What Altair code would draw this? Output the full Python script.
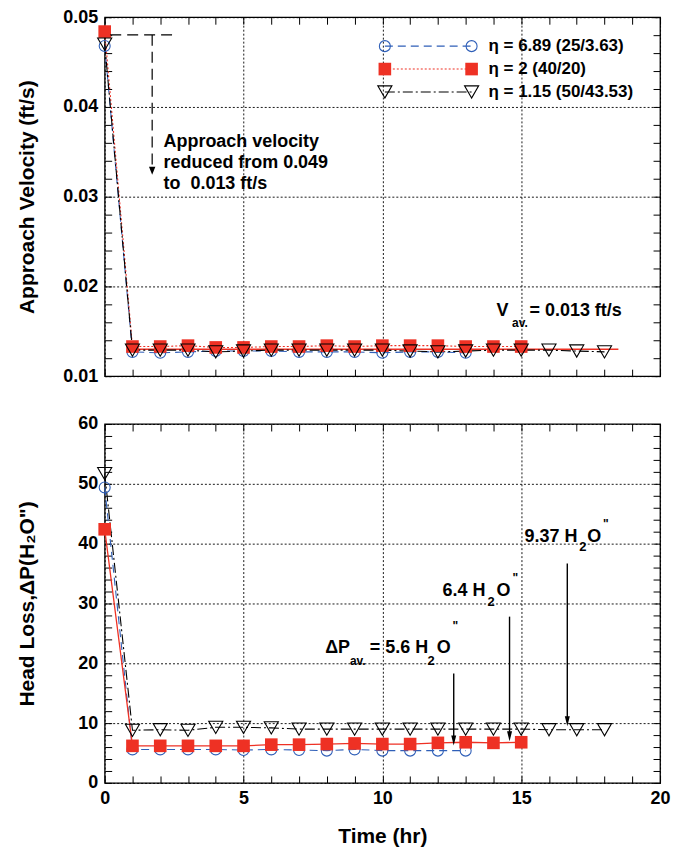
import altair as alt
import pandas as pd

# ---------------- data ----------------
hours_blue = list(range(0, 14))
hours_red = list(range(0, 16))
hours_tri = list(range(0, 19))

vel_blue = [0.0468, 0.0127, 0.0126, 0.0127, 0.0128, 0.0128, 0.0128, 0.0127,
            0.0127, 0.0127, 0.0126, 0.0127, 0.0127, 0.0126]
vel_red = [0.0484, 0.0133, 0.0133, 0.0134, 0.0132, 0.0132, 0.0133, 0.0133,
           0.0134, 0.0133, 0.0134, 0.0134, 0.0134, 0.0133, 0.0133, 0.0133]
vel_tri = [0.0470, 0.0129, 0.0129, 0.0129, 0.0127, 0.0128, 0.0129, 0.0129,
           0.0129, 0.0129, 0.0129, 0.0128, 0.0127, 0.0128, 0.0129, 0.0129,
           0.0129, 0.0128, 0.0127]

dp_blue = [49.4, 5.6, 5.6, 5.6, 5.6, 5.5, 5.6, 5.5, 5.4, 5.6, 5.4, 5.4, 5.4, 5.4]
dp_red = [42.4, 6.2, 6.2, 6.2, 6.2, 6.2, 6.4, 6.4, 6.5, 6.6, 6.5, 6.5, 6.7,
          6.8, 6.7, 6.8]
dp_tri = [51.7, 8.8, 8.9, 8.8, 9.3, 9.3, 9.2, 9.0, 9.0, 9.0, 9.0, 9.0, 9.0,
          9.0, 9.0, 9.0, 8.9, 8.9, 8.9]

series_labels = ["η = 6.89 (25/3.63)", "η = 2 (40/20)", "η = 1.15 (50/43.53)"]
vel_average = 0.013

x_label_values = [0, 5, 10, 15, 20]
x_tick_values = list(range(0, 21))
vel_label_values = [0.01, 0.02, 0.03, 0.04, 0.05]
vel_tick_values = [round(0.010 + 0.002 * i, 3) for i in range(21)]
dp_label_values = [0, 10, 20, 30, 40, 50, 60]
dp_tick_values = list(range(0, 61, 2))

# ---------------- styling ----------------
FONT = "Liberation Sans"
BLUE = "#2f5fb8"
RED = "#ee3124"
BLACK = "#000000"
W, H = 557, 360

XS = alt.Scale(domain=[0, 20], nice=False, zero=False)
YS_VEL = alt.Scale(domain=[0.01, 0.05], nice=False, zero=False)
YS_DP = alt.Scale(domain=[0, 60], nice=False, zero=False)

STYLES = [
    dict(color=BLUE, dash=[8, 5], shape="circle", filled=False, size=121),
    dict(color=RED, dash=[2, 2], shape="square", filled=True, size=160),
    dict(color=BLACK, dash=[10, 3, 2, 3], shape="triangle-down", filled=False, size=200),
]


def series_frame(hours, vals):
    return pd.DataFrame({"t": hours, "v": vals})


def xenc(axis=None, field="t:Q"):
    return alt.X(field, scale=XS, axis=axis)


def yenc(ys, axis=None, field="v:Q"):
    return alt.Y(field, scale=ys, axis=axis)


def tick_axis(orient, values):
    return alt.Axis(orient=orient, values=values, labels=False, grid=False,
                    domain=False, ticks=True, tickSize=7, offset=-7,
                    tickColor=BLACK, tickWidth=1, title=None)


def point_layer(df, st, ys):
    kw = dict(shape=st["shape"], size=st["size"], opacity=1)
    if st["filled"]:
        kw.update(filled=True, fill=st["color"], strokeWidth=0)
    else:
        kw.update(filled=False, stroke=st["color"], strokeWidth=1.1)
    return alt.Chart(df).mark_point(**kw).encode(x=xenc(), y=yenc(ys))


def line_layer(df, color, dash, ys, width=1.1):
    kw = dict(color=color, strokeWidth=width)
    if dash:
        kw["strokeDash"] = dash
    return alt.Chart(df).mark_line(**kw).encode(x=xenc(), y=yenc(ys))


def notes_layer(rows, ys):
    df = pd.DataFrame(rows, columns=["text", "x", "y", "fs"])
    return alt.Chart(df).mark_text(
        align="left", baseline="middle", font=FONT, fontWeight="bold", color=BLACK
    ).encode(
        x=xenc(field="x:Q"), y=yenc(ys, field="y:Q"), text="text:N",
        size=alt.Size("fs:Q", scale=None, legend=None),
    )


def axis_layers(df, ys, ylab, yticks, yfmt, ytitle, xlabels, xtitle):
    a = alt.Chart(df).mark_point(opacity=0).encode(
        x=xenc(alt.Axis(orient="bottom", values=x_label_values, labels=xlabels,
                        ticks=False, grid=True, domain=False, labelPadding=7,
                        labelFlush=False, title=xtitle, titlePadding=18)),
        y=yenc(ys, alt.Axis(orient="left", values=ylab, format=yfmt, ticks=False,
                            grid=True, domain=False, labelPadding=7,
                            labelFlush=False, title=ytitle, titlePadding=23,
                            minExtent=44, maxExtent=44)),
    )
    b = alt.Chart(df).mark_point(opacity=0).encode(
        x=xenc(tick_axis("bottom", x_tick_values)),
        y=yenc(ys, tick_axis("left", yticks)),
    )
    c = alt.Chart(df).mark_point(opacity=0).encode(
        x=xenc(tick_axis("top", x_tick_values)),
        y=yenc(ys, tick_axis("right", yticks)),
    )
    return [a, b, c]


# ---------------- top panel: approach velocity ----------------
vb = series_frame(hours_blue, vel_blue)
vr = series_frame(hours_red, vel_red)
vt = series_frame(hours_tri, vel_tri)

one = pd.DataFrame({"a": [0]})

top_layers = axis_layers(vb, YS_VEL, vel_label_values, vel_tick_values, ".2f",
                         "Approach Velocity (ft/s)", False, None)

# average line
avg_df = pd.DataFrame({"x": [0.8], "x2": [18.5], "y": [vel_average]})
top_layers.append(
    alt.Chart(avg_df).mark_rule(color=RED, strokeWidth=1.5).encode(
        x=xenc(field="x:Q"), x2="x2:Q", y=yenc(YS_VEL, field="y:Q"))
)
top_layers += [
    line_layer(vb, BLUE, STYLES[0]["dash"], YS_VEL),
    line_layer(vr, RED, STYLES[1]["dash"], YS_VEL),
    line_layer(vt, BLACK, STYLES[2]["dash"], YS_VEL),
    point_layer(vb, STYLES[0], YS_VEL),
    point_layer(vr, STYLES[1], YS_VEL),
    point_layer(vt, STYLES[2], YS_VEL),
]

# dashed arrow annotation
hdash = pd.DataFrame({"x": [0.2], "x2": [2.5], "y": [0.04803]})
vdash = pd.DataFrame({"x": [1.71], "y": [0.04803], "y2": [0.0330]})
ahead_top = pd.DataFrame({"x": [1.71], "y": [0.03289]})
top_layers += [
    alt.Chart(hdash).mark_rule(color=BLACK, strokeWidth=1.2, strokeDash=[11, 6]).encode(
        x=xenc(field="x:Q"), x2="x2:Q", y=yenc(YS_VEL, field="y:Q")),
    alt.Chart(vdash).mark_rule(color=BLACK, strokeWidth=1.2, strokeDash=[11, 6]).encode(
        x=xenc(field="x:Q"), y=yenc(YS_VEL, field="y:Q"), y2="y2:Q"),
    alt.Chart(ahead_top).mark_point(shape="M-0.8,-1L0.8,-1L0,1Z", size=64, filled=True,
                                    fill=BLACK, strokeWidth=0, opacity=1).encode(
        x=xenc(field="x:Q"), y=yenc(YS_VEL, field="y:Q")),
]

top_notes = [
    ("Approach velocity", 2.12, 0.03611, 18),
    ("reduced from 0.049", 2.12, 0.03378, 18),
    ("to\u00a0 0.013 ft/s", 2.12, 0.03144, 18),
    ("V", 14.11, 0.01722, 18),
    ("av.", 14.67, 0.01589, 12),
    ("= 0.013 ft/s", 15.30, 0.01722, 18),
]
top_layers.append(notes_layer(top_notes, YS_VEL))

# legend (manual, marker-line-marker)
for i, (label, st) in enumerate(zip(series_labels, STYLES)):
    ypx = 29 + 23 * i
    top_layers.append(
        alt.Chart(one).mark_rule(color=st["color"], strokeDash=st["dash"], strokeWidth=1.1).encode(
            x=alt.value(281), x2=alt.value(368), y=alt.value(ypx)))
    for xpx in (281, 368):
        kw = dict(shape=st["shape"], size=st["size"], opacity=1)
        if st["filled"]:
            kw.update(filled=True, fill=st["color"], strokeWidth=0)
        else:
            kw.update(filled=False, stroke=st["color"], strokeWidth=1.1)
        top_layers.append(
            alt.Chart(one).mark_point(**kw).encode(x=alt.value(xpx), y=alt.value(ypx)))
    top_layers.append(
        alt.Chart(one).mark_text(align="left", baseline="middle", font=FONT,
                                 fontWeight="bold", fontSize=17, color=BLACK).encode(
            x=alt.value(385), y=alt.value(ypx), text=alt.value(label)))

top = alt.layer(*top_layers).resolve_axis(x="independent", y="independent").properties(
    width=W, height=H)

# ---------------- bottom panel: head loss ----------------
pb = series_frame(hours_blue, dp_blue)
pr = series_frame(hours_red, dp_red)
pt = series_frame(hours_tri, dp_tri)

bot_layers = axis_layers(pb, YS_DP, dp_label_values, dp_tick_values, "d",
                         'Head Loss,ΔP(H₂O")', True, "Time (hr)")
bot_layers += [
    line_layer(pb, BLUE, STYLES[0]["dash"], YS_DP),
    line_layer(pr, RED, None, YS_DP, width=1.3),
    line_layer(pt, BLACK, STYLES[2]["dash"], YS_DP),
    point_layer(pb, STYLES[0], YS_DP),
    point_layer(pr, STYLES[1], YS_DP),
    point_layer(pt, STYLES[2], YS_DP),
]

arrows = pd.DataFrame({
    "x": [12.57, 14.58, 16.66],
    "y": [18.3, 27.8, 36.7],
    "y2": [7.1, 7.8, 10.3],
})
bot_layers += [
    alt.Chart(arrows).mark_rule(color=BLACK, strokeWidth=1.4).encode(
        x=xenc(field="x:Q"), y=yenc(YS_DP, field="y:Q"), y2="y2:Q"),
    alt.Chart(arrows).mark_point(shape="M-0.5,-1L0.5,-1L0,1Z", size=100, filled=True,
                                 fill=BLACK, strokeWidth=0, opacity=1).encode(
        x=xenc(field="x:Q"), y=yenc(YS_DP, field="y2:Q")),
]

bot_notes = [
    ("ΔP", 7.94, 22.55, 18),
    ("av.", 8.83, 20.3, 12),
    ("= 5.6 H", 9.55, 22.55, 18),
    ("2", 11.63, 20.3, 13),
    ("O", 11.96, 22.55, 18),
    ('"', 12.53, 26.2, 12),
    ("6.4 H", 12.17, 32.0, 18),
    ("2", 13.79, 30.3, 13),
    ("O", 14.11, 32.0, 18),
    ('"', 14.69, 34.2, 12),
    ("9.37 H", 15.12, 41.17, 18),
    ("2", 17.09, 39.5, 13),
    ("O", 17.38, 41.17, 18),
    ('"', 17.95, 43.3, 12),
]
bot_layers.append(notes_layer(bot_notes, YS_DP))

bottom = alt.layer(*bot_layers).resolve_axis(x="independent", y="independent").properties(
    width=W, height=H)

chart = alt.vconcat(top, bottom, spacing=28).properties(
    padding={"left": 16, "top": 6, "right": 2, "bottom": 2}
).configure(font=FONT).configure_view(
    stroke=BLACK, strokeWidth=1.3
).configure_axis(
    labelFont=FONT, labelFontSize=18, labelFontWeight="bold", labelColor=BLACK,
    titleFont=FONT, titleFontSize=21, titleFontWeight="bold", titleColor=BLACK,
    gridColor=BLACK, gridDash=[2, 2], gridWidth=1, gridOpacity=0.9,
)

chart.save("out.html", embed_options={"renderer": "svg", "actions": False})
